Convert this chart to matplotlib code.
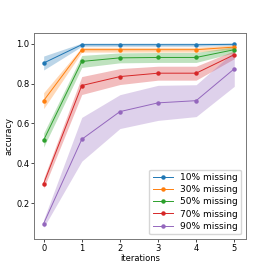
import numpy as np
import matplotlib.pyplot as plt

iterations = [0, 1, 2, 3, 4, 5]
labels = ["10% missing", "30% missing", "50% missing", "70% missing", "90% missing"]

acc_10 = [0.903, 0.995, 0.995, 0.995, 0.995, 0.997]
acc_30 = [0.714, 0.970, 0.970, 0.970, 0.970, 0.983]
acc_50 = [0.516, 0.911, 0.929, 0.931, 0.931, 0.970]
acc_70 = [0.298, 0.790, 0.835, 0.852, 0.852, 0.945]
acc_90 = [0.097, 0.520, 0.659, 0.703, 0.714, 0.874]

std_10 = [0.035, 0.008, 0.008, 0.008, 0.008, 0.006]
std_30 = [0.040, 0.012, 0.012, 0.012, 0.012, 0.010]
std_50 = [0.035, 0.030, 0.025, 0.025, 0.025, 0.015]
std_70 = [0.025, 0.045, 0.040, 0.035, 0.035, 0.020]
std_90 = [0.020, 0.110, 0.085, 0.088, 0.080, 0.088]

means = [acc_10, acc_30, acc_50, acc_70, acc_90]
stds = [std_10, std_30, std_50, std_70, std_90]

plt.rcParams["font.size"] = 6
fig, ax = plt.subplots(figsize=(2.73, 2.73), dpi=100)

for m, s, lab in zip(means, stds, labels):
    m = np.array(m)
    s = np.array(s)
    line, = ax.plot(iterations, m, marker="o", markersize=2.2, linewidth=0.7, label=lab)
    ax.fill_between(iterations, m - s, m + s, color=line.get_color(), alpha=0.3, linewidth=0)

ax.set_xlim(-0.25, 5.3)
ax.set_ylim(0.02, 1.055)
ax.set_xticks(iterations)
ax.set_yticks([0.2, 0.4, 0.6, 0.8, 1.0])
ax.set_xlabel("iterations", labelpad=1)
ax.set_ylabel("accuracy", labelpad=2)
ax.tick_params(length=2, width=0.5, pad=1.5)
for sp in ax.spines.values():
    sp.set_color("#777777")
    sp.set_linewidth(0.7)
ax.legend(loc="lower right", fontsize=6.5, handlelength=2.2, borderpad=0.4, labelspacing=0.35)

fig.subplots_adjust(left=0.125, right=0.9, bottom=0.125, top=0.88)
fig.savefig("out.png", dpi=100)
